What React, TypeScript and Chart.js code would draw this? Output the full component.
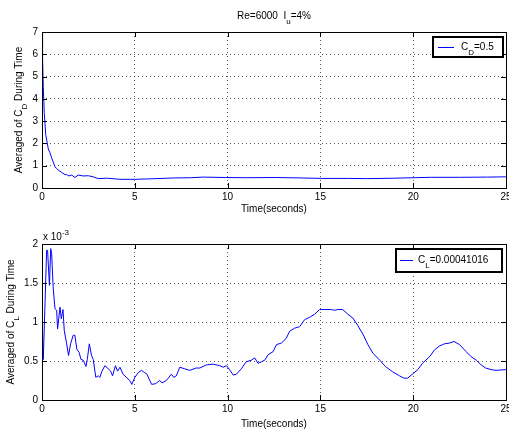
import { useEffect, useRef } from "react";
import { Chart, registerables } from "chart.js";

Chart.register(...registerables);

// ---- Data ----
const xTickValues = [0, 5, 10, 15, 20, 25];

// Averaged C_D during time
const cdTime = [0, 0.03, 0.07, 0.12, 0.2, 0.34, 0.43, 0.52, 0.7, 0.79, 0.88, 1.06, 1.24, 1.33, 1.45, 1.6, 1.78, 1.95, 2.22, 2.5, 2.76, 3.03, 3.48, 4.2, 5.0, 5.8, 7.07, 8.0, 8.7, 9.9, 11.0, 12.6, 14.0, 15.1, 16.5, 17.5, 19.0, 20.0, 21.0, 22.5, 24.0, 25];
const cdValue = [7.0, 5.8, 4.5, 3.4, 2.4, 1.75, 1.58, 1.35, 0.95, 0.87, 0.8, 0.7, 0.6, 0.6, 0.54, 0.58, 0.47, 0.58, 0.54, 0.55, 0.5, 0.42, 0.44, 0.39, 0.39, 0.41, 0.45, 0.46, 0.49, 0.47, 0.46, 0.47, 0.45, 0.43, 0.43, 0.42, 0.44, 0.46, 0.48, 0.48, 0.49, 0.5];
const cdTicks = [0, 1, 2, 3, 4, 5, 6, 7];

// Averaged C_L during time, in units of 10^-3
const clTime = [0, 0.07, 0.25, 0.3, 0.4, 0.47, 0.52, 0.6, 0.7, 0.79, 0.84, 0.97, 1.04, 1.13, 1.2, 1.33, 1.43, 1.54, 1.68, 1.77, 1.88, 2.0, 2.1, 2.22, 2.37, 2.44, 2.55, 2.67, 2.76, 2.9, 3.03, 3.12, 3.23, 3.39, 3.57, 3.7, 3.8, 3.96, 4.07, 4.2, 4.37, 4.55, 4.73, 4.84, 5.0, 5.18, 5.36, 5.54, 5.66, 5.77, 5.91, 6.13, 6.34, 6.47, 6.7, 6.97, 7.1, 7.24, 7.42, 7.69, 7.96, 8.3, 8.5, 8.86, 9.22, 9.58, 9.76, 9.94, 10.1, 10.3, 10.47, 10.74, 11.0, 11.28, 11.46, 11.64, 11.82, 12.0, 12.18, 12.45, 12.63, 12.9, 13.16, 13.34, 13.6, 13.88, 14.15, 14.42, 14.69, 14.96, 15.2, 15.6, 15.76, 15.94, 16.2, 16.48, 16.75, 17.0, 17.3, 17.56, 17.83, 18.2, 18.5, 18.9, 19.26, 19.5, 19.7, 20.0, 20.25, 20.5, 20.9, 21.14, 21.4, 21.68, 21.95, 22.2, 22.5, 22.85, 23.1, 23.4, 23.66, 23.9, 24.2, 24.46, 25];
const clValueE3 = [1.1, 0.52, 1.92, 1.92, 1.47, 1.94, 1.88, 1.45, 1.17, 1.15, 0.91, 1.19, 1.04, 1.16, 0.89, 0.72, 0.57, 0.72, 0.83, 0.83, 0.65, 0.61, 0.52, 0.51, 0.43, 0.52, 0.72, 0.57, 0.52, 0.29, 0.31, 0.29, 0.37, 0.44, 0.4, 0.37, 0.31, 0.44, 0.37, 0.42, 0.33, 0.29, 0.25, 0.2, 0.29, 0.35, 0.38, 0.35, 0.33, 0.27, 0.2, 0.21, 0.25, 0.22, 0.25, 0.33, 0.29, 0.31, 0.42, 0.4, 0.38, 0.41, 0.41, 0.45, 0.46, 0.44, 0.42, 0.44, 0.39, 0.32, 0.33, 0.4, 0.49, 0.51, 0.54, 0.47, 0.49, 0.51, 0.58, 0.62, 0.71, 0.73, 0.79, 0.88, 0.92, 0.94, 1.03, 1.06, 1.1, 1.16, 1.16, 1.16, 1.15, 1.16, 1.16, 1.1, 1.05, 0.96, 0.84, 0.71, 0.6, 0.51, 0.43, 0.36, 0.31, 0.28, 0.28, 0.34, 0.39, 0.47, 0.56, 0.64, 0.69, 0.72, 0.73, 0.75, 0.71, 0.62, 0.56, 0.51, 0.45, 0.41, 0.39, 0.38, 0.39];
const clTicks = [0, 0.5, 1, 1.5, 2];

const FONT = "'Liberation Sans', Arial, Helvetica, sans-serif";
const FS = 10;

type Seg = { t: string; sub?: boolean; sup?: boolean };

function segFont(s: Seg, size: number) {
  return `${s.sub || s.sup ? Math.round(size * 0.75) : size}px ${FONT}`;
}
function richWidth(ctx: CanvasRenderingContext2D, segs: Seg[], size: number) {
  let w = 0;
  for (const s of segs) {
    ctx.font = segFont(s, size);
    w += ctx.measureText(s.t).width;
  }
  return w;
}
function drawRich(ctx: CanvasRenderingContext2D, segs: Seg[], x: number, baseline: number, size: number, align: "left" | "center") {
  const w = richWidth(ctx, segs, size);
  let cx = align === "center" ? x - w / 2 : x;
  ctx.textAlign = "left";
  ctx.textBaseline = "alphabetic";
  ctx.fillStyle = "#000";
  for (const s of segs) {
    ctx.font = segFont(s, size);
    const dy = s.sub ? size * 0.5 : s.sup ? -size * 0.55 : 0;
    ctx.fillText(s.t, cx, baseline + dy);
    cx += ctx.measureText(s.t).width;
  }
}

type PanelCfg = {
  times: number[];
  values: number[];
  yTicks: number[];
  padTop: number;
  xAxisHeight: number;
  yTitle: Seg[];
  yTitleX: number;
  legend: Seg[];
  legendBox: [number, number, number, number];
  legendLine: [number, number, number];
  legendTextX: number;
  legendBaseline: number;
  title?: Seg[];
  exponent?: boolean;
};

function makeChart(canvas: HTMLCanvasElement, p: PanelCfg) {
  const deco = {
    id: "deco" + Math.random(),
    afterDraw(chart: any) {
      const ctx: CanvasRenderingContext2D = chart.ctx;
      const a = chart.chartArea;
      const xs = chart.scales.x;
      const ys = chart.scales.y;
      ctx.save();
      // box
      ctx.strokeStyle = "#000";
      ctx.lineWidth = 1;
      ctx.setLineDash([]);
      ctx.strokeRect(Math.round(a.left) + 0.5, Math.round(a.top) + 0.5, Math.round(a.right - a.left), Math.round(a.bottom - a.top));
      // inward ticks
      ctx.beginPath();
      const tl = 5;
      for (const v of xTickValues) {
        const px = Math.round(xs.getPixelForValue(v)) + 0.5;
        ctx.moveTo(px, a.bottom);
        ctx.lineTo(px, a.bottom - tl);
        ctx.moveTo(px, a.top);
        ctx.lineTo(px, a.top + tl);
      }
      for (const v of p.yTicks) {
        const py = Math.round(ys.getPixelForValue(v)) + 0.5;
        ctx.moveTo(a.left, py);
        ctx.lineTo(a.left + tl, py);
        ctx.moveTo(a.right, py);
        ctx.lineTo(a.right - tl, py);
      }
      ctx.stroke();
      // y title (rotated)
      ctx.save();
      ctx.translate(p.yTitleX, (a.top + a.bottom) / 2);
      ctx.rotate(-Math.PI / 2);
      drawRich(ctx, p.yTitle, 0, FS * 0.35, FS, "center");
      ctx.restore();
      // legend
      const [lx, ly, lw, lh] = p.legendBox;
      ctx.fillStyle = "#fff";
      ctx.fillRect(lx, ly, lw, lh);
      ctx.strokeStyle = "#000";
      ctx.lineWidth = 2;
      ctx.strokeRect(lx, ly, lw, lh);
      ctx.strokeStyle = "#0000ff";
      ctx.lineWidth = 1;
      ctx.beginPath();
      ctx.moveTo(p.legendLine[0], p.legendLine[2] + 0.5);
      ctx.lineTo(p.legendLine[1], p.legendLine[2] + 0.5);
      ctx.stroke();
      drawRich(ctx, p.legend, p.legendTextX, p.legendBaseline, FS, "left");
      // title
      if (p.title) drawRich(ctx, p.title, (a.left + a.right) / 2, 19, FS, "center");
      if (p.exponent) drawRich(ctx, [{ t: "x 10" }, { t: "-3", sup: true }], a.left + 1, 25, FS, "left");
      ctx.restore();
    },
  };

  const font = { family: FONT, size: FS };
  return new Chart(canvas, {
    type: "line",
    data: {
      datasets: [
        {
          data: p.times.map((t, i) => ({ x: t, y: p.values[i] })),
          borderColor: "#0000ff",
          borderWidth: 1,
          pointRadius: 0,
          tension: 0,
          fill: false,
        },
      ],
    },
    options: {
      animation: false,
      responsive: false,
      layout: { padding: { left: 0, right: 3, top: p.padTop, bottom: 0 } },
      plugins: { legend: { display: false }, tooltip: { enabled: false }, title: { display: false } },
      scales: {
        x: {
          type: "linear",
          min: 0,
          max: 25,
          afterBuildTicks: (s: any) => {
            s.ticks = xTickValues.map((v) => ({ value: v }));
          },
          ticks: { font, color: "#000", padding: 3, maxRotation: 0, autoSkip: false, callback: (v: any) => String(v) },
          grid: { color: "rgba(0,0,0,0.65)", drawTicks: false, lineWidth: 1 },
          border: { display: false, dash: [1, 3] },
          title: { display: true, text: "Time(seconds)", font, color: "#000", padding: { top: 0, bottom: 0 } },
          afterFit: (s: any) => {
            s.height = p.xAxisHeight;
            s.paddingLeft = 0;
            s.paddingRight = 0;
          },
        },
        y: {
          type: "linear",
          min: p.yTicks[0],
          max: p.yTicks[p.yTicks.length - 1],
          afterBuildTicks: (s: any) => {
            s.ticks = p.yTicks.map((v) => ({ value: v }));
          },
          ticks: { font, color: "#000", padding: 4, callback: (v: any) => String(v) },
          grid: { color: "rgba(0,0,0,0.65)", drawTicks: false, lineWidth: 1 },
          border: { display: false, dash: [1, 3] },
          afterFit: (s: any) => {
            s.width = 42;
            s.paddingTop = 0;
            s.paddingBottom = 0;
          },
        },
      },
    } as any,
    plugins: [deco],
  });
}

export default function App() {
  const topRef = useRef<HTMLCanvasElement>(null);
  const botRef = useRef<HTMLCanvasElement>(null);

  useEffect(() => {
    const c1 = makeChart(topRef.current!, {
      times: cdTime,
      values: cdValue,
      yTicks: cdTicks,
      padTop: 32,
      xAxisHeight: 27,
      yTitle: [{ t: "Averaged of C" }, { t: "D", sub: true }, { t: " During Time" }],
      yTitleX: 18,
      legend: [{ t: "C" }, { t: "D", sub: true }, { t: "=0.5" }],
      legendBox: [433, 37, 70, 20],
      legendLine: [438, 454, 47],
      legendTextX: 461,
      legendBaseline: 50,
      title: [{ t: "Re=6000  I" }, { t: "u", sub: true }, { t: "=4%" }],
    });
    const c2 = makeChart(botRef.current!, {
      times: clTime,
      values: clValueE3,
      yTicks: clTicks,
      padTop: 29,
      xAxisHeight: 30,
      yTitle: [{ t: "Averaged of C" }, { t: "L", sub: true }, { t: " During Time" }],
      yTitleX: 10,
      legend: [{ t: "C" }, { t: "L", sub: true }, { t: "=0.00041016" }],
      legendBox: [396, 34, 106, 23],
      legendLine: [400, 413, 45],
      legendTextX: 418,
      legendBaseline: 48,
      exponent: true,
    });
    return () => {
      c1.destroy();
      c2.destroy();
    };
  }, []);

  return (
    <div style={{ position: "absolute", left: 0, top: 0, width: 509, height: 430, background: "#fff", overflow: "hidden" }}>
      <canvas ref={topRef} width={509} height={215} style={{ position: "absolute", left: 0, top: 0, width: 509, height: 215 }} />
      <canvas ref={botRef} width={509} height={215} style={{ position: "absolute", left: 0, top: 215, width: 509, height: 215 }} />
    </div>
  );
}
